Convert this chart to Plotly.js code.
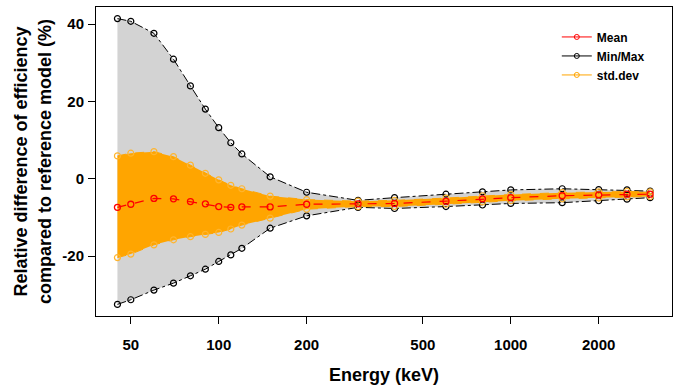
<!DOCTYPE html>
<html>
<head>
<meta charset="utf-8">
<script src="https://cdn.plot.ly/plotly-3.0.1.min.js"></script>
<style>html,body{margin:0;padding:0;background:#fff;}#chart{width:678px;height:386px;}</style>
</head>
<body>
<div id="chart"></div>
<script>
// Energy (keV)
const energy = [45, 50, 60, 70, 80, 90, 100, 110, 120, 150, 200, 300, 400, 600, 800, 1000, 1500, 2000, 2500, 3000];
// Relative difference (%)
const maxVal = [41.4, 40.7, 37.6, 30.9, 24.0, 18.0, 13.2, 9.3, 6.4, 0.5, -3.5, -5.6, -4.9, -4.0, -3.4, -2.9, -2.6, -2.8, -2.9, -3.2];
const minVal = [-32.5, -31.3, -28.8, -27.0, -25.1, -23.4, -21.4, -19.7, -18.0, -12.8, -9.6, -7.4, -7.7, -7.2, -6.8, -6.4, -6.2, -5.7, -5.3, -4.9];
const meanVal = [-7.4, -6.6, -5.1, -5.2, -5.9, -6.5, -7.2, -7.4, -7.3, -7.3, -6.6, -6.5, -6.4, -5.8, -5.2, -4.9, -4.4, -4.2, -4.0, -4.0];
const sdUpper = [5.9, 6.6, 7.0, 5.7, 3.5, 1.4, -0.3, -1.7, -2.6, -4.5, -5.4, -5.8, -5.6, -5.0, -4.4, -4.1, -3.6, -3.4, -3.3, -3.4];
const sdLower = [-20.4, -19.5, -17.1, -15.8, -15.0, -14.4, -13.9, -13.0, -12.0, -10.2, -7.9, -7.2, -7.2, -6.6, -6.0, -5.7, -5.2, -5.0, -4.7, -4.6];
const xTicks = [50, 100, 200, 500, 1000, 2000];
const yTicks = [-20, 0, 20, 40];

const FONT = 'Liberation Sans, Arial, sans-serif';
const GRAY = '#D3D3D3', ORANGE = '#FFA500', ORANGE_PT = '#FFB52E', RED = '#FF0000';

const traces = [
  // shaded min/max band
  {x: energy, y: minVal, mode: 'lines', line: {width: 0}, showlegend: false, hoverinfo: 'skip'},
  {x: energy, y: maxVal, mode: 'lines', line: {width: 0}, fill: 'tonexty', fillcolor: GRAY, showlegend: false, hoverinfo: 'skip'},
  // shaded std band
  {x: energy, y: sdLower, mode: 'lines', line: {width: 0}, showlegend: false, hoverinfo: 'skip'},
  {x: energy, y: sdUpper, mode: 'lines', line: {width: 0}, fill: 'tonexty', fillcolor: ORANGE, showlegend: false, hoverinfo: 'skip'},
  // min / max lines
  {x: energy, y: maxVal, mode: 'lines+markers', line: {color: 'black', width: 1, dash: 'dashdot'},
   marker: {symbol: 'circle-open', size: 6, color: 'black', line: {width: 1.2}}, showlegend: false},
  {x: energy, y: minVal, mode: 'lines+markers', line: {color: 'black', width: 1, dash: 'dashdot'},
   marker: {symbol: 'circle-open', size: 6, color: 'black', line: {width: 1.2}}, showlegend: false},
  // std lines
  {x: energy, y: sdUpper, mode: 'lines+markers', line: {color: ORANGE, width: 1, dash: 'dash'},
   marker: {symbol: 'circle-open', size: 6, color: ORANGE_PT, line: {width: 1.2}}, showlegend: false},
  {x: energy, y: sdLower, mode: 'lines+markers', line: {color: ORANGE, width: 1, dash: 'dash'},
   marker: {symbol: 'circle-open', size: 6, color: ORANGE_PT, line: {width: 1.2}}, showlegend: false},
  // mean
  {x: energy, y: meanVal, mode: 'lines+markers', line: {color: RED, width: 1.2, dash: 'dash'},
   marker: {symbol: 'circle-open', size: 6, color: RED, line: {width: 1.3}}, showlegend: false},
  // legend entries
  {x: [null], y: [null], mode: 'lines+markers', name: 'Mean', line: {color: RED, width: 1}, marker: {symbol: 'circle-open', size: 5, color: RED}},
  {x: [null], y: [null], mode: 'lines+markers', name: 'Min/Max', line: {color: 'black', width: 1}, marker: {symbol: 'circle-open', size: 5, color: 'black'}},
  {x: [null], y: [null], mode: 'lines+markers', name: 'std.dev', line: {color: ORANGE, width: 1}, marker: {symbol: 'circle-open', size: 5, color: ORANGE}}
];

const layout = {
  width: 678, height: 386,
  margin: {l: 96, r: 6, t: 7, b: 70},
  paper_bgcolor: 'white', plot_bgcolor: 'white',
  font: {family: FONT, color: 'black'},
  showlegend: true,
  legend: {x: 0.80, y: 0.95, xanchor: 'left', yanchor: 'top', bgcolor: 'rgba(0,0,0,0)', traceorder: 'normal',
           font: {family: FONT, size: 12, color: 'black', weight: 'bold'}, itemwidth: 30, tracegroupgap: 0},
  xaxis: {
    type: 'log', range: [Math.log10(38.0), Math.log10(3565)],
    tickmode: 'array', tickvals: xTicks, ticktext: xTicks.map(String),
    ticks: 'outside', ticklen: 7, tickwidth: 1, tickcolor: 'black',
    showline: true, mirror: true, linecolor: 'black', linewidth: 1,
    showgrid: false, zeroline: false, ticklabelstandoff: 8,
    tickfont: {family: FONT, size: 15, color: 'black', weight: 'bold'},
    title: {text: 'Energy (keV)', standoff: 16, font: {family: FONT, size: 18, color: 'black', weight: 'bold'}},
    automargin: false
  },
  yaxis: {
    range: [-35.5, 44.4],
    tickmode: 'array', tickvals: yTicks, ticktext: yTicks.map(String),
    ticks: 'outside', ticklen: 7, tickwidth: 1, tickcolor: 'black',
    showline: true, mirror: true, linecolor: 'black', linewidth: 1,
    showgrid: false, zeroline: false, ticklabelstandoff: 1,
    tickfont: {family: FONT, size: 15, color: 'black', weight: 'bold'},
    title: {text: 'Relative difference of efficiency<br>compared to reference model (%)', standoff: 6,
            font: {family: FONT, size: 18, color: 'black', weight: 'bold'}},
    automargin: false
  }
};

Plotly.newPlot('chart', traces, layout, {staticPlot: true, displayModeBar: false});
</script>
</body>
</html>
